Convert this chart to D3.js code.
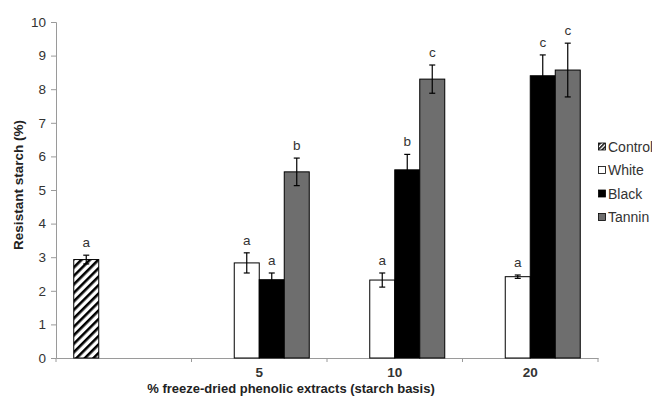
<!DOCTYPE html>
<html><head><meta charset="utf-8">
<script src="https://cdn.jsdelivr.net/npm/d3@7"></script>
<style>body{margin:0;background:#fff}svg{display:block}text{font-family:"Liberation Sans",Arial,sans-serif}</style>
</head><body><svg id="c" width="652" height="398"></svg>
<script>
const categories = ["", "5", "10", "20"];
const series = ["Control", "White", "Black", "Tannin"];
const control = [2.93, 0, 0, 0];
const white = [0, 2.83, 2.32, 2.42];
const black = [0, 2.33, 5.6, 8.4];
const tannin = [0, 5.54, 8.3, 8.57];
const controlErr = [0.13, 0, 0, 0];
const whiteErr = [0, 0.3, 0.21, 0.05];
const blackErr = [0, 0.2, 0.46, 0.62];
const tanninErr = [0, 0.41, 0.42, 0.8];
const controlLbl = ["a", "", "", ""];
const whiteLbl = ["", "a", "a", "a"];
const blackLbl = ["", "a", "b", "c"];
const tanninLbl = ["", "b", "c", "c"];
const yTicks = [0,1,2,3,4,5,6,7,8,9,10];

const values = [control, white, black, tannin];
const errs = [controlErr, whiteErr, blackErr, tanninErr];
const lbls = [controlLbl, whiteLbl, blackLbl, tanninLbl];
const fills = ["url(#hatch)", "#ffffff", "#000000", "#6e6e6e"];

const svg = d3.select("#c");
const defs = svg.append("defs");
const pat = defs.append("pattern").attr("id","hatch").attr("patternUnits","userSpaceOnUse")
  .attr("width",6).attr("height",6).attr("patternTransform","rotate(45)");
pat.append("rect").attr("width",6).attr("height",6).attr("fill","#fff");
pat.append("rect").attr("x",0).attr("width",2.6).attr("height",6).attr("fill","#000");
const pat2 = defs.append("pattern").attr("id","hatchS").attr("patternUnits","userSpaceOnUse")
  .attr("width",3).attr("height",3).attr("patternTransform","rotate(45)");
pat2.append("rect").attr("width",3).attr("height",3).attr("fill","#fff");
pat2.append("rect").attr("width",1.5).attr("height",3).attr("fill","#000");

const mLeft = 56, mRight = 598, mTop = 22, mBottom = 358;
const x = d3.scaleBand().domain(categories).range([mLeft, mRight]).paddingInner(0).paddingOuter(0);
const y = d3.scaleLinear().domain([0,10]).range([mBottom, mTop]);
const slot = d3.scaleBand().domain(series).range([17.75, x.bandwidth()-17.75]).padding(0);

// axes
const yAxis = svg.append("g").attr("transform",`translate(${mLeft},0)`)
  .call(d3.axisLeft(y).tickValues(yTicks).tickSize(5).tickPadding(5).tickFormat(d3.format("d")));
yAxis.select(".domain").attr("stroke","#9a9a9a");
yAxis.selectAll(".tick line").attr("stroke","#9a9a9a");
yAxis.selectAll(".tick text").attr("font-size",13.5).attr("fill","#333");

const xAxis = svg.append("g").attr("transform",`translate(0,${mBottom})`)
  .call(d3.axisBottom(x).tickSize(0).tickPadding(9));
xAxis.select(".domain").attr("stroke","#9a9a9a");
xAxis.selectAll(".tick text").attr("font-size",13.5).attr("fill","#333").attr("font-weight","bold");
xAxis.selectAll(".bt").data(d3.range(categories.length+1)).enter().append("line")
  .attr("x1",(d)=>mLeft + d*x.step()).attr("x2",(d)=>mLeft + d*x.step())
  .attr("y1",0).attr("y2",4).attr("stroke","#9a9a9a");

// bars
series.forEach((s,si)=>{
  const g = svg.append("g");
  categories.forEach((c,ci)=>{
    const v = values[si][ci];
    if (!v) return;
    const bx = x(c) + slot(s), bw = slot.bandwidth();
    g.append("rect").attr("x",bx).attr("y",y(v)).attr("width",bw).attr("height",y(0)-y(v))
      .attr("fill",fills[si]).attr("stroke","#000").attr("stroke-width",1);
    const e = errs[si][ci];
    const cx = bx + bw/2;
    g.append("line").attr("x1",cx).attr("x2",cx).attr("y1",y(v+e)).attr("y2",y(v-e)).attr("stroke","#000").attr("stroke-width",1.2);
    [v+e, v-e].forEach(t=>g.append("line").attr("x1",cx-3).attr("x2",cx+3).attr("y1",y(t)).attr("y2",y(t)).attr("stroke","#000").attr("stroke-width",1.2));
    g.append("text").attr("x",cx).attr("y",y(v+e)-8).attr("text-anchor","middle")
      .attr("font-size",13.5).attr("fill","#333").text(lbls[si][ci]);
  });
});

// titles
svg.append("text").attr("x",291).attr("y",393).attr("text-anchor","middle").attr("font-size",13)
  .attr("font-weight","bold").attr("fill","#222").text("% freeze-dried phenolic extracts (starch basis)");
svg.append("text").attr("transform","translate(23,185) rotate(-90)").attr("text-anchor","middle")
  .attr("font-size",13.5).attr("font-weight","bold").attr("fill","#222").text("Resistant starch (%)");

// legend
const legFills = ["url(#hatchS)", "#ffffff", "#000000", "#6e6e6e"];
const leg = svg.append("g");
series.forEach((s,i)=>{
  const ly = 147 + i*23.5;
  leg.append("rect").attr("x",598.5).attr("y",ly-4).attr("width",7).attr("height",7)
    .attr("fill",legFills[i]).attr("stroke","#000").attr("stroke-width",0.8);
  leg.append("text").attr("x",608).attr("y",ly).attr("dy","0.35em").attr("font-size",14)
    .attr("fill","#333").text(s);
});
</script></body></html>
